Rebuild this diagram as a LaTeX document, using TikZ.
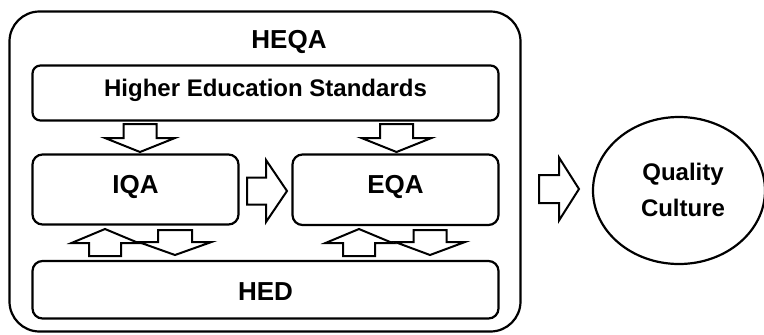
\documentclass[tikz,border=0pt]{standalone}
\usepackage{fontspec}
\setmainfont{Liberation Sans}
\usetikzlibrary{shapes.geometric}

\tikzset{
  box/.style={draw, line width=2.2pt, rounded corners=10pt, inner sep=0pt},
  bigtext/.style={font=\bfseries\fontsize{26}{30}\selectfont, text height=0.72em, text depth=0pt, inner sep=0pt},
  smalltext/.style={font=\bfseries\fontsize{24}{28}\selectfont, text height=0.72em, text depth=0pt, inner sep=0pt},
  arrowline/.style={draw, fill=white, line width=2pt, line join=miter},
  % hollow block arrow along +x: length, shaft half-width, head half-width, head length
  pics/blockarrow/.style n args={4}{code={
    \draw[arrowline] (0,-#2) -- ({#1-#4},-#2) -- ({#1-#4},-#3) -- (#1,0)
      -- ({#1-#4},#3) -- ({#1-#4},#2) -- (0,#2) -- cycle;
  }}
}

\begin{document}
\begin{tikzpicture}[x=1pt, y=-1pt]
\useasboundingbox (0,0) rectangle (764,335);

% outer frame
\node[box, rounded corners=30pt, minimum width=511pt, minimum height=320pt] (heqa) at (265,171.5) {};
\node[bigtext] (heqalabel) at (289,45) {HEQA};

% inner blocks
\node[box, rounded corners=8pt, minimum width=466pt, minimum height=55pt, smalltext] (hes) at (265.5,93) {Higher Education Standards};
\node[box, minimum width=206pt, minimum height=70pt, bigtext] (iqa) at (135.5,189.5) {IQA};
\node[box, minimum width=206pt, minimum height=70.5pt, bigtext] (eqa) at (395.5,189.75) {EQA};
\node[box, minimum width=466pt, minimum height=57.5pt] (hed) at (265.5,289.75) {};
\node[bigtext] (hedlabel) at (265.5,297) {HED};

% result
\node[draw, ellipse, line width=2.2pt, minimum width=172pt, minimum height=147pt, inner sep=0pt] (qc) at (679,190.5) {};
\node[smalltext] (qcline1) at (683,177) {Quality};
\node[smalltext] (qcline2) at (683,213) {Culture};

% block arrows
\pic[rotate=-90] at (140,124) {blockarrow={28}{16.5}{35}{14}};
\pic[rotate=-90] at (396.5,124) {blockarrow={28}{16.5}{35}{14}};
\pic at (247,191) {blockarrow={40}{13.5}{31}{21}};
\pic[rotate=90] at (105,256) {blockarrow={27}{16}{33.5}{14}};
\pic[rotate=-90] at (175,230) {blockarrow={25}{17}{36.5}{13}};
\pic[rotate=90] at (359,256) {blockarrow={27}{16}{33.5}{14}};
\pic[rotate=-90] at (430,230) {blockarrow={25}{16.5}{35}{13}};
\pic at (539,189) {blockarrow={40}{14}{31.5}{20}};
\end{tikzpicture}
\end{document}
